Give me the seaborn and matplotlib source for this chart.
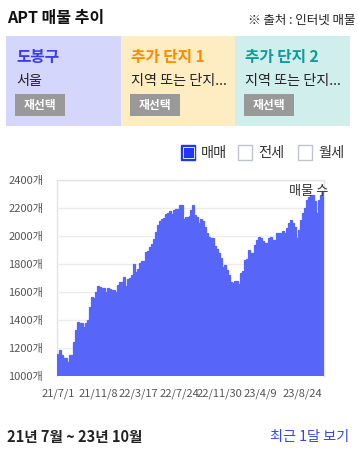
import matplotlib
matplotlib.use("Agg")
import matplotlib.pyplot as plt
from matplotlib.patches import Rectangle
import numpy as np
import pandas as pd
import seaborn as sns

# ---------------- data ----------------
START_DATE = "2021-07-01"
END_DATE = "2023-10-28"
LISTINGS = [
    1160, 1186, 1150, 1129, 1129, 1102, 1150, 1150, 1240, 1330,
    1386, 1379, 1379, 1350, 1379, 1398, 1490, 1567, 1555, 1600,
    1643, 1635, 1631, 1631, 1602, 1631, 1625, 1614, 1614, 1600,
    1650, 1669, 1674, 1705, 1643, 1690, 1702, 1721, 1800, 1745,
    1762, 1805, 1821, 1820, 1888, 1893, 1925, 1945, 1981, 2030,
    2076, 2105, 2124, 2131, 2159, 2164, 2176, 2155, 2183, 2190,
    2195, 2219, 2219, 2124, 2136, 2136, 2140, 2183, 2219, 2150,
    2136, 2093, 2124, 2107, 2062, 2019, 1995, 1988, 1983, 1929,
    1905, 1881, 1840, 1781, 1793, 1757, 1721, 1674, 1662, 1679,
    1679, 1657, 1738, 1750, 1829, 1833, 1900, 1881, 1881, 1933,
    1971, 1995, 1983, 1964, 1952, 1952, 1983, 1995, 1971, 1971,
    2019, 2019, 2019, 2036, 2019, 2060, 2095, 2114, 2090, 2067,
    1983, 2043, 2114, 2162, 2198, 2257, 2281, 2290, 2290, 2248,
    2162, 2257, 2293, 2317,
]
TICK_DATES = ["2021-07-01", "2021-11-08", "2022-03-17", "2022-07-24",
              "2022-11-30", "2023-04-09", "2023-08-24"]
TICK_LABELS = ["21/7/1", "21/11/8", "22/3/17", "22/7/24",
               "22/11/30", "23/4/9", "23/8/24"]
Y_TICKS = [1000, 1200, 1400, 1600, 1800, 2000, 2200, 2400]

REGIONS = ["도봉구", "추가 단지 1", "추가 단지 2"]
SUBTITLES = ["서울", "지역 또는 단지...", "지역 또는 단지..."]
LEGEND_ITEMS = ["매매", "전세", "월세"]

# ---------------- style ----------------
sns.set_style("white")
plt.rcParams["font.family"] = ["Noto Sans CJK KR", "DejaVu Sans"]

W, H = 358, 449
fig = plt.figure(figsize=(W / 100, H / 100), dpi=100)


def fx(x):
    return x / W


def fy(y):
    return 1 - y / H


def rect(x0, y0, x1, y1, **kw):
    fig.add_artist(Rectangle((fx(x0), fy(y1)), fx(x1) - fx(x0), fy(y0) - fy(y1),
                             transform=fig.transFigure, **kw))


# header
fig.text(fx(7), fy(18), "APT 매물 추이", fontsize=11.5, fontweight="bold",
         ha="left", va="center", color="#111111")
fig.text(fx(355), fy(20), "※ 출처 : 인터넷 매물", fontsize=9,
         ha="right", va="center", color="#222222")

# region boxes
box_x = [(6, 121), (121, 235), (235, 350)]
box_bg = ["#d4d6fb", "#feecc2", "#d0efec"]
title_col = ["#3b3bee", "#ff8a00", "#109a9a"]
for (x0, x1), bg, tc, name, sub in zip(box_x, box_bg, title_col, REGIONS, SUBTITLES):
    rect(x0, 36, x1, 126, facecolor=bg, edgecolor="none")
    fig.text(fx(x0 + 10), fy(57), name, fontsize=11.3, color=tc, ha="left",
             va="center", fontweight="bold")
    fig.text(fx(x0 + 10), fy(81), sub, fontsize=10.2, color="#222222", ha="left",
             va="center")
    rect(x0 + 9, 94, x0 + 59, 116, facecolor="#999999", edgecolor="none")
    fig.text(fx(x0 + 34), fy(105), "재선택", fontsize=8.5, color="white",
             ha="center", va="center", fontweight="bold")

# legend
leg_sq = [181, 238, 298]
for i, (sx, lab) in enumerate(zip(leg_sq, LEGEND_ITEMS)):
    if i == 0:
        rect(sx, 145, sx + 14, 159.5, facecolor="#2236f0", edgecolor="#2236f0",
             linewidth=1)
        rect(sx + 1.5, 146.5, sx + 12.5, 158, facecolor="#2236f0",
             edgecolor="white", linewidth=0.6)
    else:
        rect(sx, 145, sx + 14, 159.5, facecolor="white", edgecolor="#c0c4cc",
             linewidth=1)
    fig.text(fx(sx + 20), fy(152.5), lab, fontsize=10.3, color="#333333",
             ha="left", va="center")

# ---------------- chart ----------------
ax = fig.add_axes([fx(57), fy(376), fx(324) - fx(57), fy(180) - fy(376)])
dates = pd.date_range(START_DATE, END_DATE, periods=len(LISTINGS))
df = pd.DataFrame({"date": dates.strftime("%Y-%m-%d"), "count": LISTINGS})
BAR_COLOR = "#5865f9"
sns.barplot(data=df, x="date", y="count", color=BAR_COLOR, saturation=1,
            width=1.0, edgecolor=BAR_COLOR, linewidth=0.9, ax=ax, zorder=3)

ax.set_ylim(1000, 2400)
ax.set_xlim(-0.5, len(LISTINGS) - 0.5)
ax.set_yticks(Y_TICKS)
ax.set_yticklabels([f"{v}개" for v in Y_TICKS])
step = (dates[-1] - dates[0]) / (len(dates) - 1)
tick_pos = [(pd.Timestamp(d) - dates[0]) / step for d in TICK_DATES]
ax.set_xticks(tick_pos)
ax.set_xticklabels(TICK_LABELS)
ax.tick_params(axis="y", length=0, pad=10, labelsize=8, labelcolor="#555555")
ax.tick_params(axis="x", length=0, pad=9, labelsize=8, labelcolor="#555555")
ax.set_xlabel("")
ax.set_ylabel("")
ax.grid(axis="y", color="#ececec", linewidth=1, zorder=0)
ax.grid(axis="x", visible=False)
for s in ["top", "left", "right"]:
    ax.spines[s].set_color("#e4e4e4")
    ax.spines[s].set_linewidth(1)
ax.spines["bottom"].set_visible(False)
fig.text(fx(328), fy(191), "매물 수", ha="right", va="center",
         fontsize=9.5, color="#333333", zorder=5)

# footer
fig.text(fx(7), fy(437), "21년 7월 ~ 23년 10월", fontsize=10.5, fontweight="bold",
         ha="left", va="center", color="#222222")
fig.text(fx(349), fy(437), "최근 1달 보기", fontsize=10.2, ha="right", va="center",
         color="#3344ee")

fig.savefig("out.png", dpi=100)
